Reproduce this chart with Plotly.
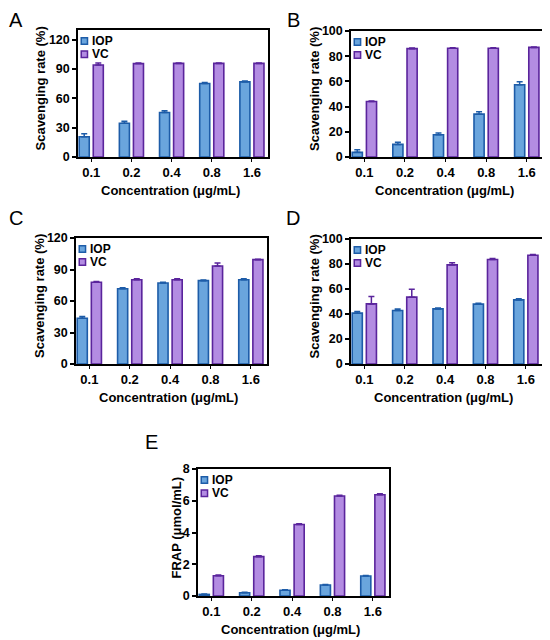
import plotly.graph_objects as go

conc = ["0.1", "0.2", "0.4", "0.8", "1.6"]

# panel A - scavenging rate (%)
a_iop = [20.7, 34.5, 45.5, 75.2, 76.9]
a_iop_err = [3.0, 2.2, 1.8, 1.0, 1.0]
a_vc = [94.1, 95.6, 95.8, 95.8, 95.8]
a_vc_err = [2.2, 0.6, 0.5, 0.5, 0.5]

# panel B
b_iop = [3.7, 10.0, 17.7, 34.0, 57.3]
b_iop_err = [2.0, 1.8, 1.3, 2.0, 2.5]
b_vc = [44.0, 86.0, 86.3, 86.3, 87.0]
b_vc_err = [0.5, 0.5, 0.4, 0.4, 0.4]

# panel C
c_iop = [43.6, 71.7, 77.1, 79.4, 80.3]
c_iop_err = [1.6, 1.0, 0.8, 0.6, 0.8]
c_vc = [77.8, 80.3, 80.3, 93.3, 99.4]
c_vc_err = [0.8, 0.8, 0.8, 2.8, 0.3]

# panel D
d_iop = [40.7, 42.8, 44.1, 47.9, 51.3]
d_iop_err = [1.3, 1.2, 0.8, 0.8, 1.0]
d_vc = [48.1, 53.5, 79.3, 83.6, 87.0]
d_vc_err = [5.9, 6.3, 1.8, 0.8, 0.6]

# panel E - FRAP (µmol/mL)
e_iop = [0.10, 0.20, 0.36, 0.69, 1.26]
e_iop_err = [0.02, 0.03, 0.03, 0.03, 0.03]
e_vc = [1.28, 2.48, 4.50, 6.30, 6.38]
e_vc_err = [0.04, 0.05, 0.05, 0.05, 0.06]

IOP_FILL = "#6aa5dd"
IOP_LINE = "#1d5ca8"
VC_FILL = "#b38ce2"
VC_LINE = "#5a249c"

FONT = "Liberation Sans"
W, H = 550, 640
PAGE_PAD = 8  # browser body margin


def px_x(x):
    return (x - PAGE_PAD) / W


def px_y(y):
    return 1 - (y - PAGE_PAD) / H


panels = [
    # letter, iop, iop_err, vc, vc_err, box (l, r, t, b) px, yrange, dtick, ytitle, ytitle x px
    ("A", a_iop, a_iop_err, a_vc, a_vc_err, (78, 268, 30, 157), [0, 130], 30, "Scavenging rate (%)", 40),
    ("B", b_iop, b_iop_err, b_vc, b_vc_err, (351, 543, 31, 157), [0, 100], 20, "Scavenging rate (%)", 314),
    ("C", c_iop, c_iop_err, c_vc, c_vc_err, (76, 267, 238, 364), [0, 120], 30, "Scavenging rate (%)", 39),
    ("D", d_iop, d_iop_err, d_vc, d_vc_err, (351, 542, 239, 364), [0, 100], 20, "Scavenging rate (%)", 314),
    ("E", e_iop, e_iop_err, e_vc, e_vc_err, (198, 389, 469, 596), [0, 8], 2, "FRAP (μmol/mL)", 176),
]

letter_px = {"A": (13, 17), "B": (293, 17), "C": (13, 218), "D": (293, 218), "E": (151, 442)}

fig = go.Figure()
layout = {}
annotations = []
shapes = []

for i, (letter, iop, iop_err, vc, vc_err, box, yrng, dtick, ytitle, ytx) in enumerate(panels):
    n = "" if i == 0 else str(i + 1)
    xa, ya = "x" + n, "y" + n
    l, r, t, b = box

    fig.add_trace(go.Bar(
        x=conc, y=iop, xaxis=xa, yaxis=ya,
        width=0.25, offset=-0.3,
        marker=dict(color=IOP_FILL, line=dict(color=IOP_LINE, width=1.6)),
        error_y=dict(type="data", array=iop_err, arrayminus=[0] * len(iop), symmetric=False,
                     color=IOP_LINE, thickness=1.5, width=3),
        showlegend=False,
    ))
    fig.add_trace(go.Bar(
        x=conc, y=vc, xaxis=xa, yaxis=ya,
        width=0.25, offset=0.05,
        marker=dict(color=VC_FILL, line=dict(color=VC_LINE, width=1.6)),
        error_y=dict(type="data", array=vc_err, arrayminus=[0] * len(vc), symmetric=False,
                     color=VC_LINE, thickness=1.5, width=3),
        showlegend=False,
    ))

    layout["xaxis" + n] = dict(
        domain=[px_x(l), px_x(r)], anchor=ya, type="category", range=[-0.33, 4.4],
        automargin=False,
        showline=True, linecolor="black", linewidth=1.5, mirror=True,
        ticks="outside", ticklen=3, tickwidth=1, tickcolor="black",
        tickfont=dict(family=FONT, size=13, color="black", weight="bold"),
        showgrid=False, zeroline=False,
    )
    layout["yaxis" + n] = dict(
        domain=[px_y(b), px_y(t)], anchor=xa, range=yrng, dtick=dtick,
        automargin=False,
        showline=True, linecolor="black", linewidth=1.5, mirror=True,
        ticks="outside", ticklen=4, tickwidth=1.5, tickcolor="black",
        tickfont=dict(family=FONT, size=12.5, color="black", weight="bold"),
        showgrid=False, zeroline=False,
    )

    # axis titles
    annotations.append(dict(text="<b>Concentration (μg/mL)</b>", xref="paper", yref="paper",
                            x=px_x((l + r) / 2 - 3), y=px_y(b + 33),
                            xanchor="center", yanchor="middle", showarrow=False,
                            font=dict(family=FONT, size=13, color="black")))
    annotations.append(dict(text="<b>" + ytitle + "</b>", xref="paper", yref="paper",
                            x=px_x(ytx), y=px_y((t + b) / 2 - 5), textangle=-90,
                            xanchor="center", yanchor="middle", showarrow=False,
                            font=dict(family=FONT, size=13, color="black")))

    # panel letter (kept inside the paper near its edges)
    lx, ly = letter_px[letter]
    ann = dict(text=letter, xref="paper", yref="paper", borderpad=0, showarrow=False,
               x=px_x(lx), y=px_y(ly), xanchor="center", yanchor="middle",
               font=dict(family=FONT, size=20, color="black"))
    if lx < 20:
        ann.update(x=0, xanchor="left")
    if ly < 30:
        ann.update(y=1, yanchor="top")
    annotations.append(ann)

    # legend key drawn inside each panel (top left)
    xd, yd = xa + " domain", ya + " domain"
    for k, (name, fill, line) in enumerate([("IOP", IOP_FILL, IOP_LINE), ("VC", VC_FILL, VC_LINE)]):
        yc = 0.913 - k * 0.104
        shapes.append(dict(type="rect", xref=xd, yref=yd, x0=0.017, x1=0.05,
                           y0=yc - 0.026, y1=yc + 0.026,
                           fillcolor=fill, line=dict(color=line, width=1.5)))
        annotations.append(dict(text="<b>" + name + "</b>", xref=xd, yref=yd, x=0.062, y=yc,
                                xanchor="left", yanchor="middle", showarrow=False,
                                font=dict(family=FONT, size=12, color="black")))

fig.update_layout(
    width=W,
    height=H,
    margin=dict(l=0, r=0, t=0, b=0),
    paper_bgcolor="white",
    plot_bgcolor="white",
    barmode="overlay",
    showlegend=False,
    annotations=annotations,
    shapes=shapes,
    **layout,
)

fig.write_html("out.html")
